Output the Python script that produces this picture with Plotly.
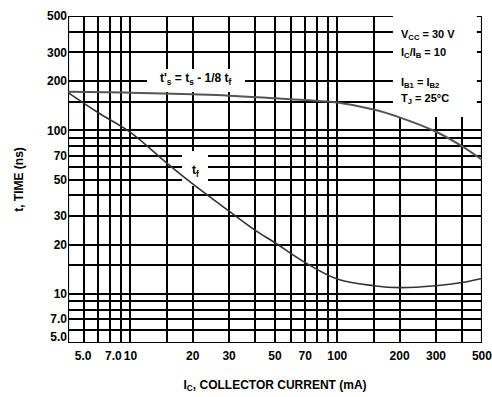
import plotly.graph_objects as go
import math

# ---- data ----
ic_ts = [5, 10, 20, 30, 50, 70, 100, 150, 200, 300, 400, 500]
ts_ns = [172, 170, 166, 163, 157, 153, 148, 134, 120, 98, 80, 66]

ic_tf = [5, 7, 10, 15, 20, 30, 40, 50, 70, 100, 150, 200, 300, 400, 500]
tf_ns = [170, 128, 97, 63, 47, 32, 24.5, 20.5, 15.5, 12.3, 11.2, 10.9, 11.2, 11.7, 12.4]

x_grid = [5, 6, 7, 8, 9, 10, 15, 20, 30, 40, 50, 60, 70, 80, 90, 100, 150, 200, 300, 400, 500]
x_labels = {10: "10", 20: "20", 30: "30", 50: "50", 70: "70",
            100: "100", 200: "200", 300: "300", 500: "500"}
x_low_vals = [5, 7]
x_low_text = ["5.0", "7.0"]
y_grid = [5, 6, 7, 8, 9, 10, 15, 20, 30, 40, 50, 60, 70, 80, 90, 100, 150, 200, 300, 400, 500]
y_labels = {7: "7.0", 10: "10", 20: "20", 30: "30", 50: "50", 70: "70",
            100: "100", 200: "200", 300: "300", 500: "500"}
y_low_vals = [5]
y_low_text = ["5.0"]

FONT = "Liberation Sans Narrow, Liberation Sans, Arial, sans-serif"

fig = go.Figure()
fig.add_trace(go.Scatter(x=ic_ts, y=ts_ns, mode="lines", line=dict(color="#555", width=2, shape="spline"),
                         showlegend=False, hoverinfo="skip"))
fig.add_trace(go.Scatter(x=ic_tf, y=tf_ns, mode="lines", line=dict(color="#333", width=1.6, shape="spline"),
                         showlegend=False, hoverinfo="skip"))
# empty trace to carry the secondary (label-only) axes
fig.add_trace(go.Scatter(x=[None], y=[None], xaxis="x2", yaxis="y2", showlegend=False, hoverinfo="skip"))

# plot area in pixels: x 68..482, y 16..343
L, R, T, B = 68, 482, 16, 343
W, H = 492, 397
LX0, LX1 = math.log10(5), math.log10(500)
LY0, LY1 = math.log10(5), math.log10(500)

def px(x):
    return (x - L) / (R - L)
def py(y):
    return (B - y) / (B - T)
def xd(x):  # pixel -> x data value (for label background boxes)
    return 10 ** (LX0 + px(x) * (LX1 - LX0))
def yd(y):
    return 10 ** (LY0 + py(y) * (LY1 - LY0))

def box(x0, x1, y0, y1):
    return dict(type="rect", xref="x", yref="y", x0=xd(x0), x1=xd(x1), y0=yd(y1), y1=yd(y0),
                fillcolor="white", line=dict(width=0), layer="between")

shapes = [
    dict(type="rect", xref="x", yref="y", x0=5, x1=500, y0=5, y1=500,
         line=dict(color="black", width=2), layer="between"),
    box(393, 477, 12, 117),
    box(147, 245, 69, 92),
    box(182, 208, 151, 186),
]

tfont = dict(family=FONT, size=12, color="black", weight="bold")
lfont = dict(family=FONT, size=11, color="black", weight="bold")
annotations = [
    dict(text="t'<sub>s</sub> = t<sub>s</sub> - 1/8 t<sub>f</sub>", x=px(196), y=py(79), xref="paper", yref="paper",
         xanchor="center", yanchor="middle", showarrow=False, font=tfont),
    dict(text="t<sub>f</sub>", x=px(195), y=py(171), xref="paper", yref="paper",
         xanchor="center", yanchor="middle", showarrow=False, font=tfont),
    dict(text="V<sub>CC</sub> = 30 V", x=px(399), y=py(35), xref="paper", yref="paper", xanchor="left",
         yanchor="middle", showarrow=False, font=lfont),
    dict(text="I<sub>C</sub>/I<sub>B</sub> = 10", x=px(399), y=py(53), xref="paper", yref="paper", xanchor="left",
         yanchor="middle", showarrow=False, font=lfont),
    dict(text="I<sub>B1</sub> = I<sub>B2</sub>", x=px(399), y=py(83), xref="paper", yref="paper", xanchor="left",
         yanchor="middle", showarrow=False, font=lfont),
    dict(text="T<sub>J</sub> = 25°C", x=px(399), y=py(99), xref="paper", yref="paper", xanchor="left",
         yanchor="middle", showarrow=False, font=lfont),
]

xr = [LX0 - 0.0005, LX1 + 0.0005]
yr = [LY0 - 0.0005, LY1 + 0.0005]

fig.update_layout(
    width=W, height=H,
    margin=dict(l=L, r=W - R, t=T, b=H - B, autoexpand=False),
    paper_bgcolor="white", plot_bgcolor="white",
    font=dict(family=FONT, size=12, color="black", weight="bold"),
    shapes=shapes, annotations=annotations,
    xaxis=dict(type="log", range=xr, automargin=False,
               tickvals=x_grid, ticktext=[x_labels.get(v, "") for v in x_grid],
               showgrid=True, gridcolor="black", gridwidth=2, zeroline=False, showline=False,
               ticks="", tickfont=dict(size=12), ticklabelstandoff=4, ticklabeloverflow="allow",
               title=dict(text="I<sub>C</sub>, COLLECTOR CURRENT (mA)", font=dict(size=12), standoff=18)),
    yaxis=dict(type="log", range=yr, automargin=False,
               tickvals=y_grid, ticktext=[y_labels.get(v, "") for v in y_grid],
               showgrid=True, gridcolor="black", gridwidth=2, zeroline=False, showline=False,
               ticks="", tickfont=dict(size=12), ticklabeloverflow="allow",
               title=dict(text="t, TIME (ns)", font=dict(size=12), standoff=20)),
    xaxis2=dict(type="log", range=xr, overlaying="x", anchor="y", side="bottom", automargin=False,
                tickvals=x_low_vals, ticktext=x_low_text, ticklabelshift=15, ticklabelstandoff=4,
                showgrid=False, zeroline=False, showline=False, ticks="", tickfont=dict(size=12)),
    yaxis2=dict(type="log", range=yr, overlaying="y", anchor="x", side="left", automargin=False,
                tickvals=y_low_vals, ticktext=y_low_text, ticklabelshift=-6,
                showgrid=False, zeroline=False, showline=False, ticks="", tickfont=dict(size=12)),
)

fig.write_html("out.html", post_script="document.body.style.margin='0';",
               config={"displayModeBar": False})
